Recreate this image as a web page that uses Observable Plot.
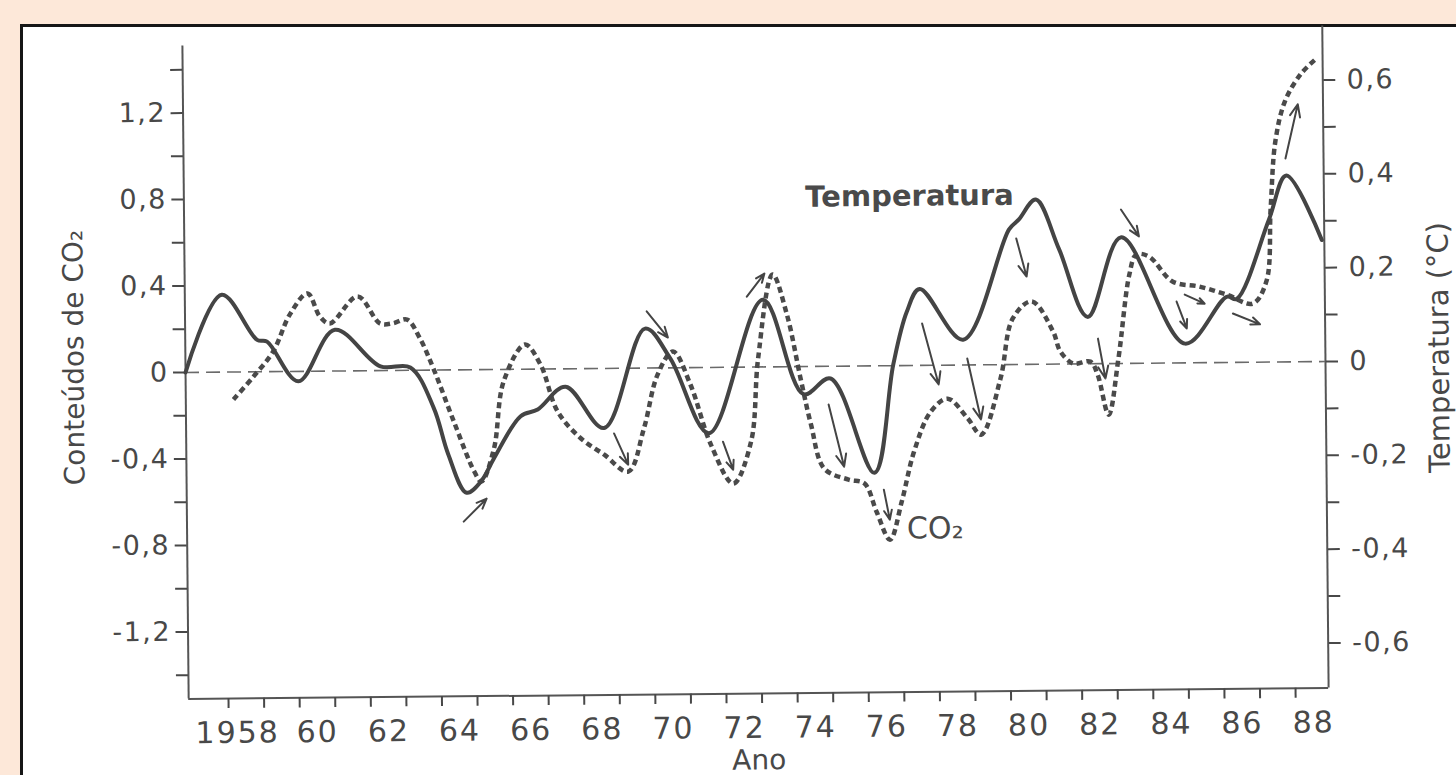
<!DOCTYPE html>
<html>
<head>
<meta charset="utf-8">
<script src="https://cdn.jsdelivr.net/npm/d3@7"></script>
<script src="https://cdn.jsdelivr.net/npm/@observablehq/plot@0.6"></script>
<style>
  html, body { margin: 0; padding: 0; width: 1456px; height: 775px; overflow: hidden; background: #fde8d9; }
  #frame { position: absolute; left: 20px; top: 24px; width: 1450px; height: 770px; background: #ffffff; border: 3px solid #161616; }
  #chart { position: absolute; left: 0; top: 0; width: 1456px; height: 775px; transform: rotate(-0.55deg); transform-origin: 755px 366px; }
  #chart svg g[aria-label="y-axis tick label"] text { letter-spacing: 1.5px; }
  #chart svg g[aria-label="x-axis tick label"] text { letter-spacing: 2px; }
</style>
</head>
<body>
<div id="frame"></div>
<div id="chart"></div>
<script>
// ---- data ----
// x is the year (tick label centred on its year), CO2 in left-axis units, temperature in °C
const tempYear = [1956.38, 1957.42, 1958.40, 1958.68, 1959.55, 1960.59, 1961.86, 1962.70, 1963.35, 1963.74,
  1964.25, 1964.67, 1965.03, 1965.79, 1966.27, 1967.06, 1968.13, 1969.31, 1970.01, 1971.08,
  1972.63, 1973.75, 1974.51, 1975.72, 1976.28, 1976.67, 1977.04, 1978.25, 1979.57, 1979.85,
  1980.33, 1980.97, 1981.76, 1982.72, 1984.49, 1985.67, 1985.95, 1986.88, 1987.38, 1988.36];
const tempValue = [0, 0.165, 0.068, 0.064, -0.021, 0.088, 0.009, 0.006, -0.081, -0.179,
  -0.262, -0.237, -0.189, -0.100, -0.086, -0.038, -0.127, 0.084, 0.020, -0.140,
  0.143, -0.059, -0.026, -0.228, 0.003, 0.114, 0.163, 0.054, 0.288, 0.309,
  0.351, 0.245, 0.100, 0.269, 0.041, 0.140, 0.135, 0.304, 0.397, 0.259];

const co2Year = [1957.72, 1958.29, 1958.85, 1959.33, 1959.83, 1960.17, 1960.45, 1961.24, 1961.86, 1962.22,
  1962.62, 1962.98, 1963.35, 1963.91, 1964.47, 1964.67, 1965.03, 1965.32, 1965.93, 1966.36,
  1966.83, 1967.48, 1968.13, 1968.80, 1969.25, 1969.65, 1970.09, 1970.57, 1971.13, 1971.75,
  1972.26, 1972.48, 1972.91, 1973.30, 1973.67, 1973.95, 1974.31, 1974.99, 1975.44, 1975.77,
  1976.14, 1976.48, 1976.84, 1977.32, 1977.80, 1978.36, 1978.73, 1979.29, 1979.65, 1980.19,
  1980.78, 1980.98, 1981.34, 1981.82, 1982.02, 1982.32, 1982.61, 1982.94, 1983.14, 1983.50,
  1984.15, 1984.91, 1985.67, 1986.40, 1986.79, 1986.93, 1987.08, 1987.36, 1987.81, 1988.23];
const co2Value = [-0.127, -0.022, 0.093, 0.264, 0.360, 0.253, 0.220, 0.344, 0.218, 0.218,
  0.235, 0.147, 0.007, -0.239, -0.471, -0.518, -0.366, -0.056, 0.114, 0.021,
  -0.197, -0.323, -0.399, -0.478, -0.280, -0.031, 0.075, -0.078, -0.357, -0.538,
  -0.345, 0.039, 0.427, 0.242, -0.056, -0.269, -0.473, -0.525, -0.544, -0.675,
  -0.805, -0.629, -0.398, -0.214, -0.155, -0.248, -0.323, -0.064, 0.213, 0.291,
  0.151, 0.058, 0.002, 0.010, -0.050, -0.236, 0.023, 0.411, 0.503, 0.493,
  0.377, 0.352, 0.314, 0.271, 0.373, 0.711, 1.020, 1.205, 1.330, 1.398];

// arrows (start -> head), in year / CO2-axis units
const arrowYear1  = [1964.16, 1968.41, 1969.36, 1971.47, 1974.45, 1975.98, 1972.18, 1977.10, 1978.36, 1979.77, 1982.72, 1982.04, 1984.26, 1984.49, 1985.84, 1987.36];
const arrowValue1 = [-0.702, -0.301, 0.262, -0.344, -0.177, -0.573, 0.326, 0.194, 0.030, 0.583, 0.712, 0.116, 0.284, 0.316, 0.226, 0.941];
const arrowYear2  = [1964.81, 1968.80, 1969.95, 1971.75, 1974.87, 1976.14, 1972.68, 1977.55, 1978.73, 1980.05, 1983.22, 1982.24, 1984.54, 1985.05, 1986.60, 1987.72];
const arrowValue2 = [-0.597, -0.446, 0.140, -0.474, -0.465, -0.712, 0.432, -0.089, -0.253, 0.406, 0.587, -0.069, 0.159, 0.273, 0.175, 1.191];

// series labels inside the plot
const seriesLabels = ["Temperatura", "CO₂"];
const seriesLabelYear = [1973.85, 1976.62];
const seriesLabelValue = [0.782, -0.756];

// axes
const xDomain = [1956.38, 1988.43];
const co2Domain = [-1.51, 1.51];
const yearTicks = [1957.5, 1958.5, 1959.5, 1960.5, 1961.5, 1962.5, 1963.5, 1964.5, 1965.5, 1966.5, 1967.5,
  1968.5, 1969.5, 1970.5, 1971.5, 1972.5, 1973.5, 1974.5, 1975.5, 1976.5, 1977.5, 1978.5, 1979.5,
  1980.5, 1981.5, 1982.5, 1983.5, 1984.5, 1985.5, 1986.5, 1987.5];
const yearLabels = [1958, 1960, 1962, 1964, 1966, 1968, 1970, 1972, 1974, 1976, 1978, 1980, 1982, 1984, 1986, 1988];
const yearTickLabels = ["1958", "60", "62", "64", "66", "68", "70", "72", "74", "76", "78", "80", "82", "84", "86", "88"];
const co2Major = [-1.2, -0.8, -0.4, 0, 0.4, 0.8, 1.2];
const co2Minor = [-1.4, -1.0, -0.6, -0.2, 0.2, 0.6, 1.0, 1.4];
const tempMajor = [-0.6, -0.4, -0.2, 0, 0.2, 0.4, 0.6];
const tempMinor = [-0.5, -0.3, -0.1, 0.1, 0.3, 0.5];
const tempAxisTop = 0.715;
const K = 2.17; // one °C in CO2-axis units

const xLabelOf = new Map(yearLabels.map((y, i) => [y, yearTickLabels[i]]));
const fmt = v => {
  const r = Math.round(v * 10) / 10;
  if (r === 0) return "0";
  return (r < 0 ? "-" : "") + Math.abs(r).toFixed(1).replace(".", ",");
};

const temp = tempYear.map((x, i) => ({x, y: tempValue[i] * K}));
const co2 = co2Year.map((x, i) => ({x, y: co2Value[i]}));
const arrows = arrowYear1.map((x1, i) => ({x1, y1: arrowValue1[i], x2: arrowYear2[i], y2: arrowValue2[i]}));
const labels = seriesLabels.map((t, i) => ({t, x: seriesLabelYear[i], y: seriesLabelValue[i]}));

const ink = "#484848";

const chart = Plot.plot({
  width: 1456,
  height: 775,
  marginLeft: 185,
  marginRight: 131,
  marginTop: 40,
  marginBottom: 82,
  style: {background: "transparent", color: ink, fontFamily: "'DejaVu Sans', sans-serif"},
  x: {domain: xDomain},
  y: {domain: co2Domain},
  marks: [
    // frame lines
    Plot.ruleY([co2Domain[0]], {stroke: "#555", strokeWidth: 2}),
    Plot.ruleX([xDomain[0]], {y1: co2Domain[0], y2: co2Domain[1], stroke: "#555", strokeWidth: 2}),
    Plot.ruleX([xDomain[1]], {y1: co2Domain[0], y2: tempAxisTop * K, stroke: "#555", strokeWidth: 2}),
    // zero reference
    Plot.ruleY([0], {stroke: "#6a6a6a", strokeWidth: 1.6, strokeDasharray: "14,7"}),
    // left axis (CO2)
    Plot.axisY(co2Major, {anchor: "left", tickSize: 12, tickPadding: 5, strokeWidth: 2, tickFormat: fmt, fontSize: 27, label: null}),
    Plot.axisY(co2Minor, {anchor: "left", tickSize: 12, strokeWidth: 2, tickFormat: () => "", label: null}),
    // right axis (temperature)
    Plot.axisY(tempMajor.map(t => t * K), {anchor: "right", tickSize: 12, tickPadding: 12, strokeWidth: 2, tickFormat: d => fmt(d / K), fontSize: 27, label: null}),
    Plot.axisY(tempMinor.map(t => t * K), {anchor: "right", tickSize: 12, strokeWidth: 2, tickFormat: () => "", label: null}),
    // x axis
    Plot.axisX(yearTicks, {anchor: "bottom", tickSize: 10, strokeWidth: 2, tickFormat: () => "", label: null}),
    Plot.axisX(yearLabels.slice(0, 1), {anchor: "bottom", tickSize: 0, tickPadding: 23, dx: -9, tickFormat: d => xLabelOf.get(d), fontSize: 30, label: null}),
    Plot.axisX(yearLabels.slice(1), {anchor: "bottom", tickSize: 0, tickPadding: 23, tickFormat: d => xLabelOf.get(d), fontSize: 30, label: null}),
    // axis titles
    Plot.text(["Conteúdos de CO₂"], {text: d => d, frameAnchor: "left", textAnchor: "middle", dx: -111, dy: -16, rotate: -90, fontSize: 28, fill: ink}),
    Plot.text(["Temperatura (°C)"], {text: d => d, frameAnchor: "right", textAnchor: "middle", dx: 114, dy: -13, rotate: -90, fontSize: 29, fill: ink}),
    Plot.text(["Ano"], {text: d => d, frameAnchor: "bottom", textAnchor: "middle", dy: 56, lineAnchor: "top", fontSize: 28, fill: ink}),
    // series
    Plot.line(co2, {x: "x", y: "y", curve: "catmull-rom", stroke: "#4a4a4a", strokeWidth: 4.5, strokeDasharray: "6,4", strokeLinecap: "butt"}),
    Plot.line(temp, {x: "x", y: "y", curve: "catmull-rom", stroke: "#444", strokeWidth: 4}),
    Plot.arrow(arrows, {x1: "x1", y1: "y1", x2: "x2", y2: "y2", bend: 0, stroke: "#444", strokeWidth: 2, headLength: 10, headAngle: 45}),
    Plot.text(labels.slice(0, 1), {x: "x", y: "y", text: "t", textAnchor: "start", fontSize: 29, fontWeight: "bold", fill: "#4a4a4a"}),
    Plot.text(labels.slice(1), {x: "x", y: "y", text: "t", textAnchor: "start", fontSize: 30, fill: "#4a4a4a"})
  ]
});
document.getElementById("chart").appendChild(chart);
</script>
</body>
</html>
